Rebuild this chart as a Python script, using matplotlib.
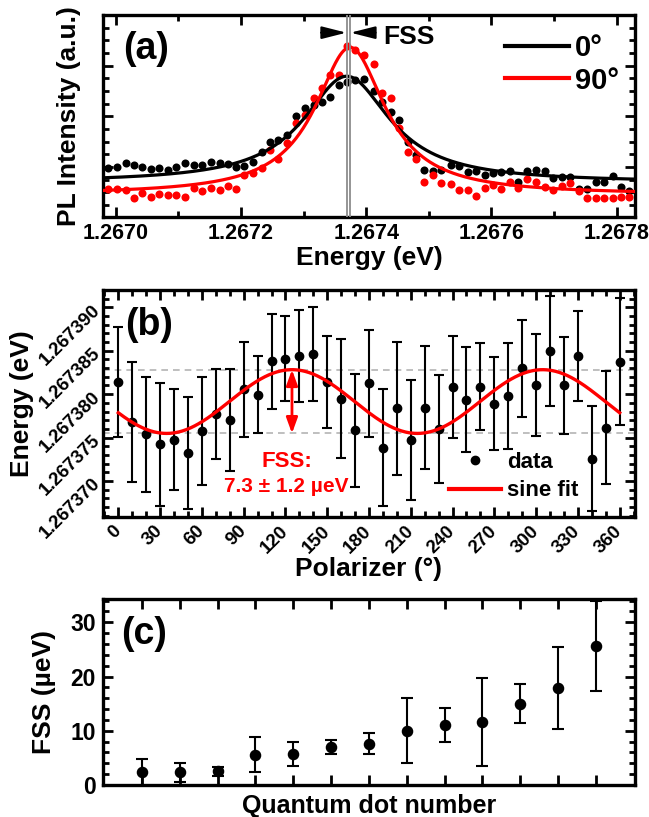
import numpy as np
import matplotlib
matplotlib.use('Agg')
import matplotlib.pyplot as plt
from matplotlib.ticker import MultipleLocator, FormatStrFormatter, NullFormatter
from matplotlib.lines import Line2D

plt.rcParams['font.family'] = ['Liberation Sans Narrow', 'Liberation Sans', 'DejaVu Sans']
plt.rcParams['font.weight'] = 'bold'
plt.rcParams['axes.labelweight'] = 'bold'
plt.rcParams['axes.linewidth'] = 2.4

# ---- panel (a): PL spectra, energy offsets in ueV above 1.2670 eV
energy_ueV = [-12, 2, 16, 29, 42, 57, 70, 84, 97, 111, 125, 138, 152, 166, 179, 192,
              205, 219, 234, 247, 260, 273, 288, 302, 316, 329, 342, 356, 369, 382, 397,
              412, 426, 439, 453, 466, 479, 493, 507, 520, 535, 548, 562, 576, 589, 603,
              615, 629, 643, 657, 671, 685, 698, 712, 726, 740, 752, 766, 779, 794, 807, 820]
pl_0deg = [0.97, 0.99, 1.07, 1.03, 0.99, 0.96, 0.97, 0.94, 0.99, 1.07, 1.03, 1.04, 1.10, 1.07,
           1.05, 0.99, 1.02, 1.09, 1.29, 1.49, 1.54, 1.63, 2.01, 2.17, 2.23, 2.29, 2.38, 2.61,
           2.68, 2.72, 2.74, 2.49, 2.29, 2.08, 1.93, 1.50, 1.24, 0.94, 0.91, 0.94, 1.04, 1.01,
           0.89, 0.92, 0.84, 0.875, 0.89, 0.91, 0.71, 0.91, 0.94, 0.91, 0.78, 0.79, 0.80, 0.56,
           0.56, 0.71, 0.71, 0.81, 0.61, 0.53]
pl_90deg = [0.56, 0.56, 0.545, 0.39, 0.48, 0.41, 0.46, 0.45, 0.45, 0.40, 0.58, 0.525, 0.58,
            0.545, 0.63, 0.56, 0.83, 0.875, 0.97, 1.34, 1.16, 1.47, 1.865, 2.03, 2.36, 2.56,
            2.81, 2.82, 3.38, 3.30, 3.20, 3.03, 2.46, 2.35, 1.77, 1.29, 1.15, 0.71, 0.83, 0.68,
            0.66, 0.545, 0.545, 0.43, 0.59, 0.64, 0.56, 0.71, 0.58, 0.76, 0.71, 0.61, 0.545,
            0.63, 0.68, 0.525, 0.38, 0.38, 0.38, 0.39, 0.41, 0.41]
# lorentzian fits: (center ueV, hwhm ueV, amplitude, offset)
fit_0deg = (369.0, 84.0, 2.10, 0.69)
fit_90deg = (374.4, 68.0, 2.91, 0.45)

# ---- panel (b): line energy vs polarizer angle, ueV above 1.267370 eV
angles = [0, 10, 20, 30, 40, 50, 60, 70, 80, 90, 100, 110, 120, 130, 140, 150, 160, 170, 180,
          190, 200, 210, 220, 230, 240, 250, 260, 270, 280, 290, 300, 310, 320, 330, 340, 350, 360]
peak_ueV = [11.42, 6.8, 5.38, 4.23, 4.77, 3.23, 5.77, 7.69, 7.0, 10.54, 9.96, 13.77, 14.08,
            14.38, 14.6, 11.42, 9.5, 5.85, 11.23, 3.85, 8.35, 4.69, 8.46, 5.96, 10.85, 9.38,
            10.85, 8.92, 9.77, 12.96, 11.04, 14.96, 11.04, 14.38, 2.58, 6.12, 13.73]
peak_err = [6.35, 6.9, 6.6, 7.1, 5.8, 6.5, 6.2, 5.2, 5.9, 5.5, 4.4, 5.5, 4.9, 5.3, 5.4, 5.3,
            6.8, 6.5, 6.2, 6.7, 7.7, 6.9, 7.1, 6.2, 5.9, 6.0, 5.0, 5.4, 6.1, 5.6, 5.9, 6.3,
            5.6, 5.2, 6.0, 6.5, 7.3]
sine_mid, sine_amp, sine_phase = 9.15, 3.67, 124.7

# ---- panel (c): FSS of 13 quantum dots
dots = [1, 2, 3, 4, 5, 6, 7, 8, 9, 10, 11, 12, 13]
fss = [2.3, 2.3, 2.5, 5.6, 5.7, 7.0, 7.6, 10.0, 11.1, 11.6, 15.0, 17.9, 25.6]
fss_err = [2.4, 1.8, 0.8, 3.25, 2.2, 1.3, 1.9, 6.0, 3.1, 8.15, 3.55, 7.5, 8.3]

E0 = 1.2670
B0 = 1.267370
RED = '#ff0000'

fig = plt.figure(figsize=(6.49, 8.17), dpi=100)
L, W = 0.1587, 0.8197
axa = fig.add_axes([L, 0.7338, W, 0.2479])
axb = fig.add_axes([L, 0.3666, W, 0.2785])
axc = fig.add_axes([L, 0.0392, W, 0.2277])


def style(ax):
    ax.tick_params(which='both', direction='in', top=True, right=True, width=2)
    ax.tick_params(which='major', length=7)
    ax.tick_params(which='minor', length=4)


# (a)
e = E0 + np.array(energy_ueV) * 1e-6
axa.plot(e, pl_0deg, 'o', color='black', ms=5.8, mew=0, zorder=2)
axa.plot(e, pl_90deg, 'o', color=RED, ms=5.8, mew=0, zorder=2)
ee = np.linspace(-25, 835, 600)
for (c, g, a, y0), col in [(fit_0deg, 'black'), (fit_90deg, RED)]:
    axa.plot(E0 + ee * 1e-6, y0 + a * g**2 / ((ee - c)**2 + g**2), color=col, lw=2.3, zorder=3)
for c in (fit_0deg[0], fit_90deg[0]):
    axa.axvline(E0 + c * 1e-6, color='#8c8c8c', lw=1.3, zorder=4)
axa.annotate('', xy=(E0 + 368.5e-6, 3.65), xytext=(E0 + 328e-6, 3.65),
             arrowprops=dict(arrowstyle='-|>,head_length=1.5,head_width=0.38', color='black',
                             lw=1.5, shrinkA=0, shrinkB=0))
axa.annotate('', xy=(E0 + 375e-6, 3.65), xytext=(E0 + 415e-6, 3.65),
             arrowprops=dict(arrowstyle='-|>,head_length=1.5,head_width=0.38', color='black',
                             lw=1.5, shrinkA=0, shrinkB=0))
axa.text(E0 + 427e-6, 3.56, 'FSS', fontsize=19, ha='left', va='center')
axa.text(0.038, 0.834, '(a)', transform=axa.transAxes, fontsize=27, ha='left', va='center')
handles = [Line2D([], [], color='black', lw=3), Line2D([], [], color=RED, lw=3)]
axa.legend(handles, ['0°', '90°'], loc='upper left', bbox_to_anchor=(0.755, 0.905),
           frameon=False, fontsize=21, handlelength=2.2, handletextpad=0.2,
           labelspacing=0.15, borderpad=0, borderaxespad=0)
axa.set_xlim(1.26698, 1.267829)
axa.set_ylim(0, 4)
axa.xaxis.set_major_locator(MultipleLocator(0.0002))
axa.xaxis.set_minor_locator(MultipleLocator(0.0001))
axa.xaxis.set_major_formatter(FormatStrFormatter('%.4f'))
axa.yaxis.set_major_locator(MultipleLocator(1))
axa.yaxis.set_minor_locator(MultipleLocator(0.25))
axa.yaxis.set_major_formatter(NullFormatter())
style(axa)
axa.tick_params(axis='x', labelsize=15.5, pad=4)
axa.set_xlabel('Energy (eV)', fontsize=19)
axa.set_ylabel('PL Intensity (a.u.)', fontsize=19)
axa.xaxis.set_label_coords(0.5, -0.2)
axa.xaxis.label.set_va('center')
axa.yaxis.set_label_coords(-0.064, 0.5)
axa.yaxis.label.set_va('center')

# (b)
pk = B0 + np.array(peak_ueV) * 1e-6
axb.errorbar(angles, pk, yerr=np.array(peak_err) * 1e-6, fmt='o', color='black', ms=6,
             elinewidth=1.5, capsize=3.6, capthick=1.5, zorder=3)
th = np.linspace(0, 360, 500)
sine = B0 + (sine_mid + sine_amp * np.cos(np.deg2rad(2 * (th - sine_phase)))) * 1e-6
axb.plot(th, sine, color=RED, lw=2.4, zorder=4)
for v in (sine_mid + sine_amp, sine_mid - sine_amp):
    axb.axhline(B0 + v * 1e-6, color='#b4b4b4', lw=1.2, ls=(0, (4, 3)), zorder=1)
axb.annotate('', xy=(sine_phase, B0 + (sine_mid + sine_amp) * 1e-6),
             xytext=(sine_phase, B0 + (sine_mid - sine_amp) * 1e-6),
             arrowprops=dict(arrowstyle='<|-|>,head_length=0.55,head_width=0.2', color=RED,
                             lw=2, mutation_scale=17, shrinkA=0, shrinkB=0), zorder=5)
axb.text(121, B0 + 2.26e-6, 'FSS:', color=RED, fontsize=16, ha='center', va='center')
axb.text(120.5, B0 - 0.58e-6, '7.3 ± 1.2 µeV', color=RED, fontsize=15, ha='center', va='center')
axb.text(0.042, 0.846, '(b)', transform=axb.transAxes, fontsize=27, ha='left', va='center')
handles = [Line2D([], [], color='black', marker='o', ls='none', ms=6),
           Line2D([], [], color=RED, lw=3)]
axb.legend(handles, ['data', 'sine fit'], loc='upper left', bbox_to_anchor=(0.65, 0.29),
           frameon=False, fontsize=16, handlelength=2.35, handletextpad=0.27,
           labelspacing=0.35, borderpad=0, borderaxespad=0)
axb.set_xlim(-11, 371)
axb.set_ylim(1.2673658, 1.2673920)
axb.xaxis.set_major_locator(MultipleLocator(30))
axb.xaxis.set_minor_locator(MultipleLocator(10))
axb.yaxis.set_major_locator(MultipleLocator(5e-6))
axb.yaxis.set_minor_locator(MultipleLocator(1e-6))
axb.yaxis.set_major_formatter(FormatStrFormatter('%.6f'))
style(axb)
axb.tick_params(labelsize=13.5)
for lab in axb.get_yticklabels():
    lab.set_rotation(45)
    lab.set_rotation_mode('anchor')
    lab.set_ha('right')
    lab.set_va('center')
for lab in axb.get_xticklabels():
    lab.set_rotation(45)
    lab.set_rotation_mode('anchor')
    lab.set_ha('right')
    lab.set_va('center')
axb.tick_params(axis='x', pad=8)
axb.tick_params(axis='y', pad=4)
axb.set_xlabel('Polarizer (°)', fontsize=19)
axb.set_ylabel('Energy (eV)', fontsize=19)
axb.xaxis.set_label_coords(0.5, -0.225)
axb.xaxis.label.set_va('center')
axb.yaxis.set_label_coords(-0.152, 0.5)
axb.yaxis.label.set_va('center')

# (c)
axc.errorbar(dots, fss, yerr=fss_err, fmt='o', color='black', ms=7.3, elinewidth=1.5,
             capsize=4, capthick=1.5)
axc.text(0.034, 0.814, '(c)', transform=axc.transAxes, fontsize=27, ha='left', va='center')
axc.set_xlim(-0.03, 14.03)
axc.set_ylim(0, 34.3)
axc.set_xticks(dots)
axc.xaxis.set_major_formatter(NullFormatter())
axc.yaxis.set_major_locator(MultipleLocator(10))
axc.yaxis.set_minor_locator(MultipleLocator(2))
style(axc)
axc.tick_params(axis='y', labelsize=16.5, pad=5)
axc.set_xlabel('Quantum dot number', fontsize=18)
axc.set_ylabel('FSS (µeV)', fontsize=19)
axc.xaxis.set_label_coords(0.5, -0.115)
axc.xaxis.label.set_va('center')
axc.yaxis.set_label_coords(-0.111, 0.5)
axc.yaxis.label.set_va('center')

fig.savefig('out.png', dpi=100)
